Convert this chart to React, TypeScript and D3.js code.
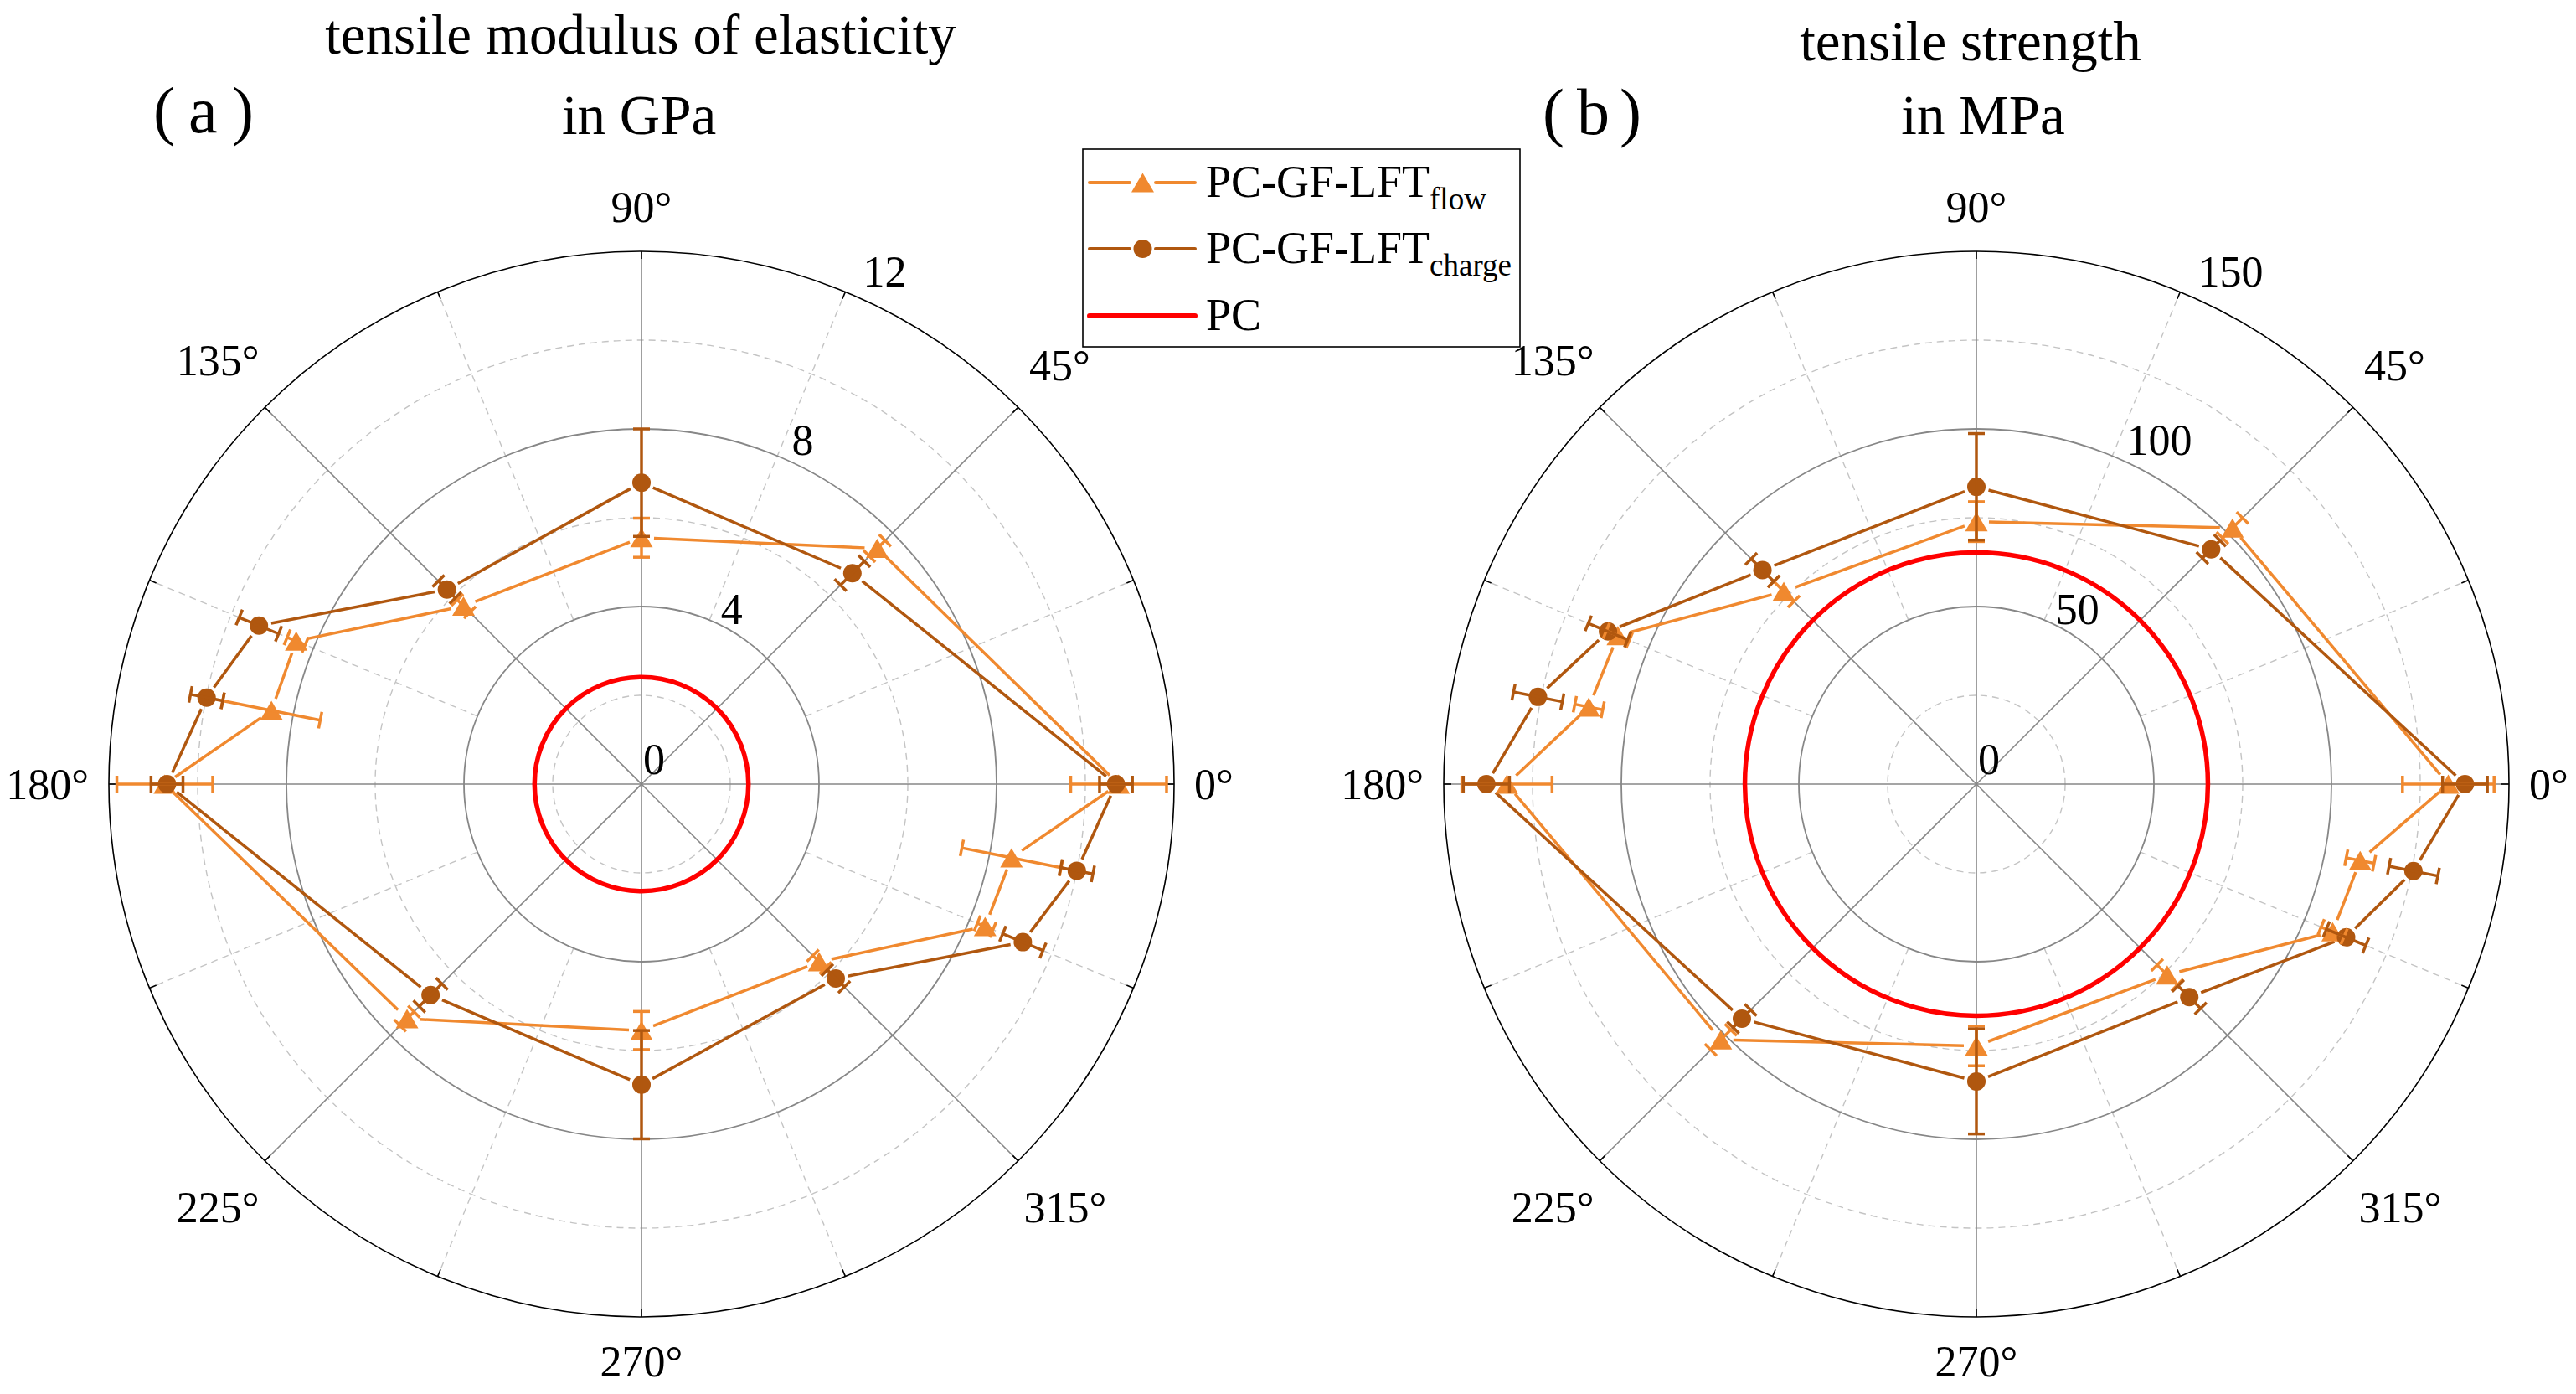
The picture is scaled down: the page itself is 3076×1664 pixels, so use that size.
import React, { useEffect } from 'react';
import * as d3 from 'd3';

// ---------- data ----------
const angles = [0, 45, 90, 135, 157.5, 168.75, 180, 225, 270, 315, 337.5, 348.75];

// (a) tensile modulus of elasticity in GPa
const modulusFlow = [10.75, 7.51, 5.55, 5.67, 8.42, 8.5, 10.74, 7.47, 5.55, 5.66, 8.38, 8.5];
const modulusFlowErr = [1.08, 0.25, 0.44, 0.2, 0.22, 1.12, 1.08, 0.22, 0.43, 0.2, 0.19, 1.14];
const modulusCharge = [10.69, 6.72, 6.79, 6.2, 9.33, 9.99, 10.69, 6.72, 6.77, 6.19, 9.3, 10.0];
const modulusChargeErr = [0.37, 0.38, 1.21, 0.27, 0.48, 0.37, 0.36, 0.36, 1.22, 0.27, 0.49, 0.37];
const modulusPC = 2.41;
const modulusRingTicks = [0, 4, 8, 12];
const modulusDashTicks = [2, 6, 10];

// (b) tensile strength in MPa
const strengthFlow = [132.9, 102.0, 73.9, 76.7, 109.3, 111.3, 132.2, 101.8, 73.7, 76.0, 108.6, 110.2];
const strengthFlowErr = [12.9, 4, 5.6, 4, 3.5, 4, 12.7, 4, 5.6, 4, 3.5, 4];
const strengthCharge = [137.6, 93.5, 83.7, 85.2, 112.3, 125.9, 138.0, 93.4, 83.7, 84.8, 112.7, 125.5];
const strengthChargeErr = [6.3, 3.5, 15, 4.5, 6, 7, 6.5, 3.5, 14.8, 4.5, 6, 7];
const strengthPC = 65.2;
const strengthRingTicks = [0, 50, 100, 150];
const strengthDashTicks = [25, 75, 125];

const thetaSolid = [0, 45, 90, 135, 180, 225, 270, 315];
const thetaDashed = [22.5, 67.5, 112.5, 157.5, 202.5, 247.5, 292.5, 337.5];
const thetaLabels = [0, 45, 90, 135, 180, 225, 270, 315];

const legendNames = ['PC-GF-LFT', 'PC-GF-LFT', 'PC'];
const legendSubs = ['flow', 'charge', ''];

// ---------- style ----------
const W = 3076;
const H = 1664;
const R = 636;
const FLOW = '#F0892F';
const CHARGE = '#B0570F';
const PCCOL = '#FF0000';
const FONT = "'Liberation Serif', 'Times New Roman', serif";

function pt(cx: number, cy: number, r: number, deg: number): [number, number] {
  const a = (deg * Math.PI) / 180;
  return [cx + r * Math.cos(a), cy - r * Math.sin(a)];
}

function labelWidth(s: string, fs: number) {
  let w = 0;
  for (const ch of s) w += ch === '°' ? 0.4 : 0.5;
  return w * fs;
}

function Triangle({ x, y, color }: { x: number; y: number; color: string }) {
  const w = 27, h = 23;
  return (
    <path
      d={`M${x},${y - h / 2}L${x + w / 2},${y + h / 2}L${x - w / 2},${y + h / 2}Z`}
      fill={color}
    />
  );
}

function Series({ cx, cy, rs, values, color, gap }: any) {
  const pts = angles.map((a, i) => pt(cx, cy, rs(values[i]), a));
  const segs: any[] = [];
  for (let i = 0; i < pts.length; i++) {
    const p = pts[i];
    const q = pts[(i + 1) % pts.length];
    const dx = q[0] - p[0], dy = q[1] - p[1];
    const d = Math.hypot(dx, dy);
    if (d <= 2 * gap) continue;
    const ux = dx / d, uy = dy / d;
    segs.push(
      <line key={i} x1={p[0] + ux * gap} y1={p[1] + uy * gap} x2={q[0] - ux * gap} y2={q[1] - uy * gap}
        stroke={color} strokeWidth={3.5} />
    );
  }
  return <g>{segs}</g>;
}

function ErrorBars({ cx, cy, rs, values, errs, color }: any) {
  return (
    <g stroke={color} strokeWidth={3.5}>
      {angles.map((a, i) => {
        const lo = pt(cx, cy, rs(values[i] - errs[i]), a);
        const hi = pt(cx, cy, rs(values[i] + errs[i]), a);
        const rad = (a * Math.PI) / 180;
        const px = Math.sin(rad) * 10, py = Math.cos(rad) * 10;
        return (
          <g key={i}>
            <line x1={lo[0]} y1={lo[1]} x2={hi[0]} y2={hi[1]} />
            <line x1={lo[0] - px} y1={lo[1] - py} x2={lo[0] + px} y2={lo[1] + py} />
            <line x1={hi[0] - px} y1={hi[1] - py} x2={hi[0] + px} y2={hi[1] + py} />
          </g>
        );
      })}
    </g>
  );
}

function Panel(props: any) {
  const { cx, cy, ringTicks, dashTicks, flow, flowErr, charge, chargeErr, pc } = props;
  const max = ringTicks[ringTicks.length - 1];
  const rs = d3.scaleLinear().domain([0, max]).range([0, R]);
  const innerSolid = rs(ringTicks[1]);
  const fsLab = 52;
  return (
    <g>
      {dashTicks.map((v: number) => (
        <circle key={'d' + v} cx={cx} cy={cy} r={rs(v)} fill="none" stroke="#c4c4c4" strokeWidth={1.4}
          strokeDasharray="8 6" />
      ))}
      {thetaDashed.map((a) => {
        const p0 = pt(cx, cy, innerSolid, a);
        const p1 = pt(cx, cy, R, a);
        return <line key={'ds' + a} x1={p0[0]} y1={p0[1]} x2={p1[0]} y2={p1[1]} stroke="#c4c4c4"
          strokeWidth={1.4} strokeDasharray="8 6" />;
      })}
      {ringTicks.slice(1, -1).map((v: number) => (
        <circle key={'s' + v} cx={cx} cy={cy} r={rs(v)} fill="none" stroke="#878787" strokeWidth={1.8} />
      ))}
      {thetaSolid.map((a) => {
        const p1 = pt(cx, cy, R, a);
        return <line key={'ss' + a} x1={cx} y1={cy} x2={p1[0]} y2={p1[1]} stroke="#878787" strokeWidth={1.6} />;
      })}
      <circle cx={cx} cy={cy} r={R} fill="none" stroke="#000" strokeWidth={1.6} />
      {[...thetaSolid, ...thetaDashed].map((a) => {
        const p0 = pt(cx, cy, R - 9, a);
        const p1 = pt(cx, cy, R, a);
        return <line key={'t' + a} x1={p0[0]} y1={p0[1]} x2={p1[0]} y2={p1[1]} stroke="#000" strokeWidth={1.6} />;
      })}
      {thetaLabels.map((a) => {
        const s = `${a}°`;
        const rad = (a * Math.PI) / 180;
        const w = labelWidth(s, fsLab);
        const rl = 660 + 11 * Math.abs(Math.sin(rad)) + 0.5 * (w * Math.abs(Math.cos(rad)) + 36 * Math.abs(Math.sin(rad)));
        const p = pt(cx, cy, rl, a);
        return (
          <text key={'l' + a} x={p[0]} y={p[1]} fontSize={fsLab} fontFamily={FONT} textAnchor="middle"
            dominantBaseline="central">{s}</text>
        );
      })}
      {ringTicks.map((v: number) => {
        const r = rs(v);
        const x = v === 0 ? cx + 2 : cx + 10 + 0.4 * r;
        const y = v === 0 ? cy - 12 : cy + 10 - 0.95 * r;
        return <text key={'r' + v} x={x} y={y} fontSize={fsLab} fontFamily={FONT}>{v}</text>;
      })}
      <circle cx={cx} cy={cy} r={rs(pc)} fill="none" stroke={PCCOL} strokeWidth={5.5} />
      <Series cx={cx} cy={cy} rs={rs} values={flow} color={FLOW} gap={15} />
      <Series cx={cx} cy={cy} rs={rs} values={charge} color={CHARGE} gap={15} />
      {angles.map((a, i) => {
        const p = pt(cx, cy, rs(flow[i]), a);
        return <Triangle key={'ft' + i} x={p[0]} y={p[1]} color={FLOW} />;
      })}
      {angles.map((a, i) => {
        const p = pt(cx, cy, rs(charge[i]), a);
        return <circle key={'cc' + i} cx={p[0]} cy={p[1]} r={11} fill={CHARGE} />;
      })}
      <ErrorBars cx={cx} cy={cy} rs={rs} values={flow} errs={flowErr} color={FLOW} />
      <ErrorBars cx={cx} cy={cy} rs={rs} values={charge} errs={chargeErr} color={CHARGE} />
    </g>
  );
}

function Legend() {
  const x0 = 1293, y0 = 178, w = 522, h = 236;
  const rows = [218, 297, 377];
  const colors = [FLOW, CHARGE, PCCOL];
  return (
    <g>
      <rect x={x0} y={y0} width={w} height={h} fill="#fff" stroke="#000" strokeWidth={1.6} />
      {rows.map((y, i) => (
        <g key={i}>
          {i < 2 ? (
            <>
              <line x1={1301} y1={y} x2={1349} y2={y} stroke={colors[i]} strokeWidth={4} strokeLinecap="round" />
              <line x1={1380} y1={y} x2={1427} y2={y} stroke={colors[i]} strokeWidth={4} strokeLinecap="round" />
              {i === 0 ? <Triangle x={1364.5} y={y} color={FLOW} /> : <circle cx={1364.5} cy={y} r={11} fill={CHARGE} />}
            </>
          ) : (
            <line x1={1301} y1={y} x2={1427} y2={y} stroke={PCCOL} strokeWidth={6} strokeLinecap="round" />
          )}
          <text x={1440} y={y + 17} fontSize={54} fontFamily={FONT}>
            {legendNames[i]}
            {legendSubs[i] ? <tspan fontSize={37} dy={15}>{legendSubs[i]}</tspan> : null}
          </text>
        </g>
      ))}
    </g>
  );
}

export default function App() {
  useEffect(() => {
    document.body.style.margin = '0';
  }, []);
  return (
    <svg width={W} height={H} viewBox={`0 0 ${W} ${H}`} style={{ position: 'absolute', left: 0, top: 0, background: '#fff' }}>
      <rect x={0} y={0} width={W} height={H} fill="#fff" />
      <text x={765} y={64} fontSize={67} fontFamily={FONT} textAnchor="middle">tensile modulus of elasticity</text>
      <text x={763} y={160} fontSize={67} fontFamily={FONT} textAnchor="middle">in GPa</text>
      <text x={2353} y={72} fontSize={67} fontFamily={FONT} textAnchor="middle">tensile strength</text>
      <text x={2368} y={160} fontSize={67} fontFamily={FONT} textAnchor="middle">in MPa</text>
      <text y={158} fontSize={78} fontFamily={FONT}>
        <tspan x={183}>(</tspan><tspan x={225}>a</tspan><tspan x={277}>)</tspan>
      </text>
      <text y={160} fontSize={78} fontFamily={FONT}>
        <tspan x={1842}>(</tspan><tspan x={1883}>b</tspan><tspan x={1934}>)</tspan>
      </text>
      <Panel cx={766} cy={936} ringTicks={modulusRingTicks} dashTicks={modulusDashTicks}
        flow={modulusFlow} flowErr={modulusFlowErr} charge={modulusCharge} chargeErr={modulusChargeErr} pc={modulusPC} />
      <Panel cx={2360} cy={936} ringTicks={strengthRingTicks} dashTicks={strengthDashTicks}
        flow={strengthFlow} flowErr={strengthFlowErr} charge={strengthCharge} chargeErr={strengthChargeErr} pc={strengthPC} />
      <Legend />
    </svg>
  );
}
